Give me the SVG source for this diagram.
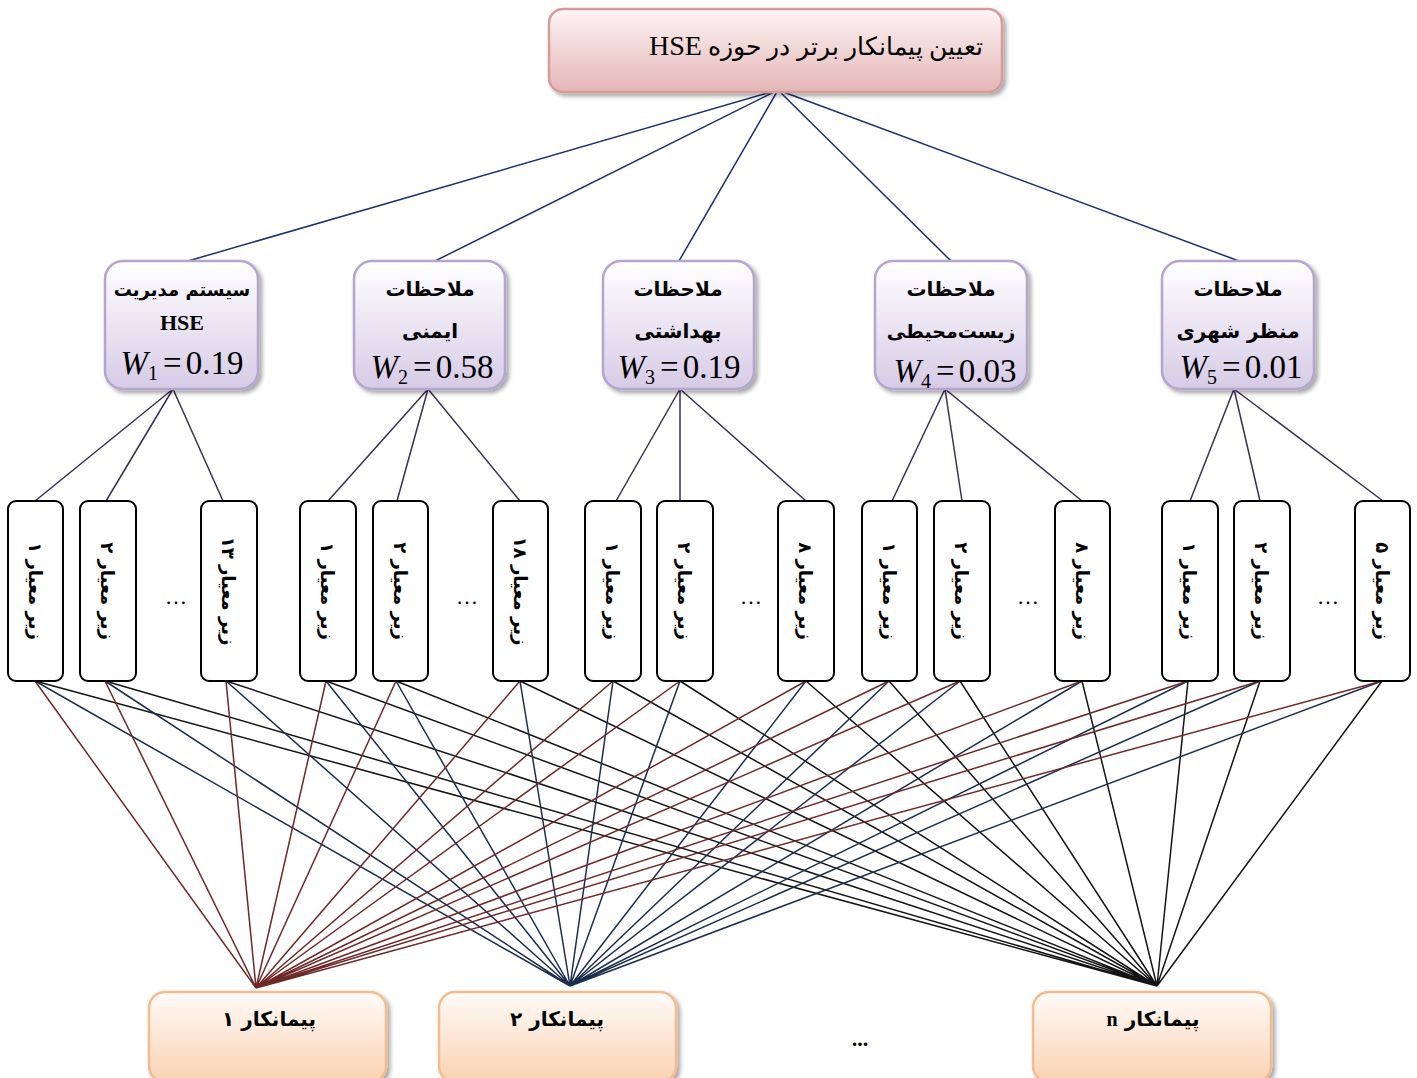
<svg xmlns="http://www.w3.org/2000/svg" width="1417" height="1078" viewBox="0 0 1417 1078">
<defs>
<linearGradient id="gTop" x1="0" y1="0" x2="0" y2="1"><stop offset="0" stop-color="#fdf4f4"/><stop offset="1" stop-color="#e5b6b6"/></linearGradient>
<linearGradient id="gCrit" x1="0" y1="0" x2="0" y2="1"><stop offset="0" stop-color="#ffffff"/><stop offset="1" stop-color="#d6cbe6"/></linearGradient>
<linearGradient id="gCon" x1="0" y1="0" x2="0" y2="1"><stop offset="0" stop-color="#fffbf8"/><stop offset="1" stop-color="#f9d2b3"/></linearGradient>
<filter id="sh" x="-10%" y="-10%" width="130%" height="130%"><feDropShadow dx="3" dy="3" stdDeviation="2" flood-color="#000" flood-opacity="0.35"/></filter>
</defs>
<style>
.top{fill:url(#gTop);stroke:#d59c9c;stroke-width:2.5}
.crit{fill:url(#gCrit);stroke:#b5a4cd;stroke-width:2.5}
.sub{fill:#fff;stroke:#000;stroke-width:2}
.con{fill:url(#gCon);stroke:#f5bb8c;stroke-width:2.5}
.fa{font-family:"DejaVu Sans",sans-serif;font-weight:bold;fill:#000}
.ser{font-family:"Liberation Serif",serif;fill:#000}
.w{font-family:"Liberation Serif",serif;font-size:33px;fill:#000}
.lt{stroke:#1c2f6e;stroke-width:1.5;fill:none}
.lm{stroke:#3b2f55;stroke-width:1.5;fill:none}
.lr{stroke:#6e2828;stroke-width:1.5;fill:none}
.ln{stroke:#1b2e4e;stroke-width:1.5;fill:none}
.lk{stroke:#141414;stroke-width:1.5;fill:none}
</style>
<rect width="1417" height="1078" fill="#fff"/>
<g id="connectors">
<path class="lt" d="M778 90L188 261M778 90L435 261M778 90L679 261M778 90L951 261M778 90L1239 261"/>
<path class="lm" d="M173 389L35 501M173 389L106 501M173 389L223 501M428 389L328 501M428 389L397 501M428 389L520 501M680 389L616 501M680 389L680 501M680 389L806 501M945 389L892 501M945 389L962 501M945 389L1082 501M1234 389L1190 501M1234 389L1260 501M1234 389L1383 501"/>
<path class="lk" d="M35 681L1157 986M105 681L1157 986M226 681L1157 986M326 681L1157 986M396 681L1157 986M520 681L1157 986M613 681L1157 986M680 681L1157 986M806 681L1157 986M889 681L1157 986M960 681L1157 986M1082 681L1157 986M1188 681L1157 986M1260 681L1157 986M1382 681L1157 986"/>
<path class="ln" d="M35 681L570 986M105 681L570 986M226 681L570 986M326 681L570 986M396 681L570 986M520 681L570 986M613 681L570 986M680 681L570 986M806 681L570 986M889 681L570 986M960 681L570 986M1082 681L570 986M1188 681L570 986M1260 681L570 986M1382 681L570 986"/>
<path class="lr" d="M35 681L256 988M105 681L256 988M226 681L256 988M326 681L256 988M396 681L256 988M520 681L256 988M613 681L256 988M680 681L256 988M806 681L256 988M889 681L256 988M960 681L256 988M1082 681L256 988M1188 681L256 988M1260 681L256 988M1382 681L256 988"/>
</g>
<g id="goal">
<rect class="top" x="549" y="9" width="453" height="83" rx="14" filter="url(#sh)"/>
<text class="ser" x="816" y="55" font-size="25" text-anchor="middle" direction="rtl" style="unicode-bidi:embed">تعیین پیمانکار برتر در حوزه <tspan font-size="28">HSE</tspan></text>
</g>
<g id="c1">
<rect class="crit" x="105" y="261" width="153" height="128" rx="18" filter="url(#sh)"/>
<text class="fa" x="182" y="296" font-size="18" text-anchor="middle" direction="rtl">سیستم مدیریت</text>
<text class="ser" x="182" y="330" font-size="22" font-weight="bold" text-anchor="middle">HSE</text>
<text class="w" x="182" y="374" text-anchor="middle"><tspan font-style="italic">W</tspan><tspan font-size="20" dy="6">1</tspan><tspan dy="-6" dx="5">=</tspan><tspan dx="4">0.19</tspan></text>
</g>
<g id="c2">
<rect class="crit" x="354" y="261" width="151" height="128" rx="18" filter="url(#sh)"/>
<text class="fa" x="430" y="296" font-size="20" text-anchor="middle" direction="rtl">ملاحظات</text>
<text class="fa" x="430" y="338" font-size="20" text-anchor="middle" direction="rtl">ایمنی</text>
<text class="w" x="432" y="378" text-anchor="middle"><tspan font-style="italic">W</tspan><tspan font-size="20" dy="6">2</tspan><tspan dy="-6" dx="5">=</tspan><tspan dx="4">0.58</tspan></text>
</g>
<g id="c3">
<rect class="crit" x="603" y="261" width="151" height="128" rx="18" filter="url(#sh)"/>
<text class="fa" x="678" y="296" font-size="20" text-anchor="middle" direction="rtl">ملاحظات</text>
<text class="fa" x="678" y="338" font-size="20" text-anchor="middle" direction="rtl">بهداشتی</text>
<text class="w" x="679" y="378" text-anchor="middle"><tspan font-style="italic">W</tspan><tspan font-size="20" dy="6">3</tspan><tspan dy="-6" dx="5">=</tspan><tspan dx="4">0.19</tspan></text>
</g>
<g id="c4">
<rect class="crit" x="875" y="261" width="152" height="128" rx="18" filter="url(#sh)"/>
<text class="fa" x="951" y="296" font-size="20" text-anchor="middle" direction="rtl">ملاحظات</text>
<text class="fa" x="951" y="338" font-size="19" text-anchor="middle" direction="rtl">زیست‌محیطی</text>
<text class="w" x="955" y="382" text-anchor="middle"><tspan font-style="italic">W</tspan><tspan font-size="20" dy="6">4</tspan><tspan dy="-6" dx="5">=</tspan><tspan dx="4">0.03</tspan></text>
</g>
<g id="c5">
<rect class="crit" x="1162" y="261" width="152" height="128" rx="18" filter="url(#sh)"/>
<text class="fa" x="1238" y="296" font-size="20" text-anchor="middle" direction="rtl">ملاحظات</text>
<text class="fa" x="1238" y="338" font-size="20" text-anchor="middle" direction="rtl">منظر شهری</text>
<text class="w" x="1241" y="378" text-anchor="middle"><tspan font-style="italic">W</tspan><tspan font-size="20" dy="6">5</tspan><tspan dy="-6" dx="5">=</tspan><tspan dx="4">0.01</tspan></text>
</g>
<g id="s1"><rect class="sub" x="8" y="501" width="55" height="180" rx="8"/><text class="fa" transform="translate(35.5 591) rotate(90)" y="7" font-size="18" text-anchor="middle" direction="rtl">زیر معیار ۱</text></g>
<g id="s2"><rect class="sub" x="80" y="501" width="56" height="180" rx="8"/><text class="fa" transform="translate(108 591) rotate(90)" y="7" font-size="18" text-anchor="middle" direction="rtl">زیر معیار ۲</text></g>
<g id="s3"><rect class="sub" x="201" y="501" width="56" height="180" rx="8"/><text class="fa" transform="translate(229 591) rotate(90)" y="7" font-size="18" text-anchor="middle" direction="rtl">زیر معیار ۱۳</text></g>
<g id="s4"><rect class="sub" x="300" y="501" width="56" height="180" rx="8"/><text class="fa" transform="translate(328 591) rotate(90)" y="7" font-size="18" text-anchor="middle" direction="rtl">زیر معیار ۱</text></g>
<g id="s5"><rect class="sub" x="373" y="501" width="55" height="180" rx="8"/><text class="fa" transform="translate(400.5 591) rotate(90)" y="7" font-size="18" text-anchor="middle" direction="rtl">زیر معیار ۲</text></g>
<g id="s6"><rect class="sub" x="493" y="501" width="55" height="180" rx="8"/><text class="fa" transform="translate(520.5 591) rotate(90)" y="7" font-size="18" text-anchor="middle" direction="rtl">زیر معیار ۱۸</text></g>
<g id="s7"><rect class="sub" x="585" y="501" width="56" height="180" rx="8"/><text class="fa" transform="translate(613 591) rotate(90)" y="7" font-size="18" text-anchor="middle" direction="rtl">زیر معیار ۱</text></g>
<g id="s8"><rect class="sub" x="657" y="501" width="56" height="180" rx="8"/><text class="fa" transform="translate(685 591) rotate(90)" y="7" font-size="18" text-anchor="middle" direction="rtl">زیر معیار ۲</text></g>
<g id="s9"><rect class="sub" x="778" y="501" width="56" height="180" rx="8"/><text class="fa" transform="translate(806 591) rotate(90)" y="7" font-size="18" text-anchor="middle" direction="rtl">زیر معیار ۸</text></g>
<g id="s10"><rect class="sub" x="862" y="501" width="55" height="180" rx="8"/><text class="fa" transform="translate(889.5 591) rotate(90)" y="7" font-size="18" text-anchor="middle" direction="rtl">زیر معیار ۱</text></g>
<g id="s11"><rect class="sub" x="934" y="501" width="56" height="180" rx="8"/><text class="fa" transform="translate(962 591) rotate(90)" y="7" font-size="18" text-anchor="middle" direction="rtl">زیر معیار ۲</text></g>
<g id="s12"><rect class="sub" x="1055" y="501" width="55" height="180" rx="8"/><text class="fa" transform="translate(1082.5 591) rotate(90)" y="7" font-size="18" text-anchor="middle" direction="rtl">زیر معیار ۸</text></g>
<g id="s13"><rect class="sub" x="1162" y="501" width="56" height="180" rx="8"/><text class="fa" transform="translate(1190 591) rotate(90)" y="7" font-size="18" text-anchor="middle" direction="rtl">زیر معیار ۱</text></g>
<g id="s14"><rect class="sub" x="1234" y="501" width="56" height="180" rx="8"/><text class="fa" transform="translate(1262 591) rotate(90)" y="7" font-size="18" text-anchor="middle" direction="rtl">زیر معیار ۲</text></g>
<g id="s15"><rect class="sub" x="1355" y="501" width="55" height="180" rx="8"/><text class="fa" transform="translate(1382.5 591) rotate(90)" y="7" font-size="18" text-anchor="middle" direction="rtl">زیر معیار ۵</text></g>
<g id="dots" class="ser" font-size="22" text-anchor="middle">
<text x="176" y="604">…</text><text x="467" y="604">…</text><text x="751" y="604">…</text><text x="1028" y="604">…</text><text x="1328" y="604">…</text>
</g>
<g id="k1"><rect class="con" x="149" y="992" width="237" height="90" rx="16" filter="url(#sh)"/><text class="fa" x="269" y="1026" font-size="20" text-anchor="middle" direction="rtl">پیمانکار ۱</text></g>
<g id="k2"><rect class="con" x="439" y="992" width="237" height="90" rx="16" filter="url(#sh)"/><text class="fa" x="557" y="1026" font-size="20" text-anchor="middle" direction="rtl">پیمانکار ۲</text></g>
<g id="kn"><rect class="con" x="1033" y="992" width="238" height="90" rx="16" filter="url(#sh)"/><text class="fa" x="1153" y="1026" font-size="20" text-anchor="middle" direction="rtl">پیمانکار <tspan font-family="Liberation Serif,serif">n</tspan></text></g>
<text class="ser" x="860" y="1046" font-size="22" font-weight="bold" text-anchor="middle">...</text>
</svg>
